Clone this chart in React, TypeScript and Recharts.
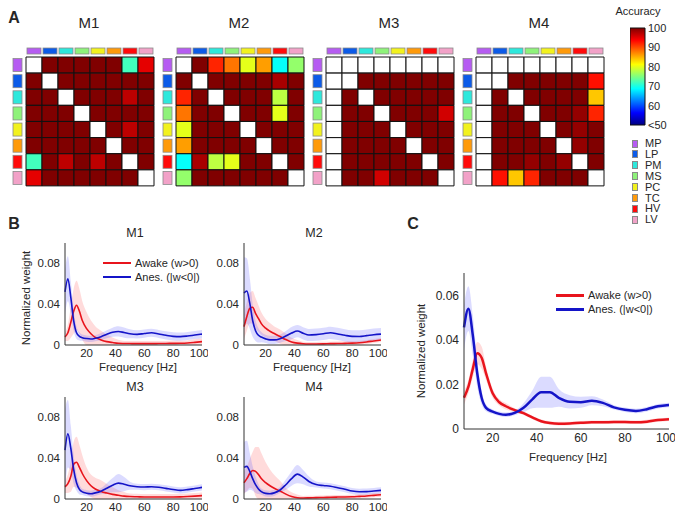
import React from "react";
import type { ReactElement, ReactNode } from "react";
import { Area, Bar, BarChart, Cell, ComposedChart, Legend, Line, XAxis, YAxis } from "recharts";

const FONT = '"Liberation Sans", Arial, sans-serif';
const INK = "#262626";

// regions (heatmap rows / cols)
const REGIONS = ["MP", "LP", "PM", "MS", "PC", "TC", "HV", "LV"];
const REGION_COLORS = ["#b65cf2", "#0c5be8", "#2ee8dc", "#8ef27a", "#f2f21e", "#ff9a0a", "#ff0a0a", "#f2a2c8"];

// decoding accuracy, row = region i, col = region j (null = not shown)
const N = null;
const M1_ACC = [
  [N, 100, 100, 100, 100, 100, 72, 95],
  [100, N, 100, 100, 100, 100, 100, 100],
  [100, 100, N, 100, 100, 100, 97, 100],
  [100, 100, 100, N, 100, 100, 100, 100],
  [100, 100, 100, 100, N, 100, 97, 100],
  [100, 100, 100, 100, 100, N, 100, 100],
  [72, 100, 97, 100, 97, 100, N, 100],
  [95, 100, 100, 100, 100, 100, 100, N],
];
const M2_ACC = [
  [N, 100, 92, 88, 80, 86, 69, 76],
  [100, N, 100, 100, 100, 100, 98, 100],
  [92, 100, N, 100, 100, 100, 78, 100],
  [88, 100, 100, N, 100, 100, 80, 100],
  [80, 100, 100, 100, N, 100, 100, 100],
  [86, 100, 100, 100, 100, N, 100, 100],
  [69, 98, 78, 80, 100, 100, N, 100],
  [76, 100, 100, 100, 100, 100, 100, N],
];
const M3_ACC = [
  [N, N, N, N, N, N, N, N],
  [N, N, 100, 100, 100, 100, 100, 100],
  [N, 100, N, 100, 100, 100, 100, 100],
  [N, 100, 100, N, 100, 100, 100, 96],
  [N, 100, 100, 100, N, 100, 100, 100],
  [N, 100, 100, 100, 100, N, 100, 100],
  [N, 100, 100, 100, 100, 100, N, 100],
  [N, 100, 100, 96, 100, 100, 100, N],
];
const M4_ACC = [
  [N, N, N, N, N, N, N, N],
  [N, N, 100, 100, 100, 100, 100, 93],
  [N, 100, N, 100, 100, 100, 100, 84],
  [N, 100, 100, N, 100, 100, 99, 92],
  [N, 100, 100, 100, N, 100, 99, 100],
  [N, 100, 100, 100, 100, N, 99, 100],
  [N, 100, 100, 99, 100, 99, N, 100],
  [N, 93, 84, 92, 100, 100, 100, N],
];
const ACC_TICKS = [50, 60, 70, 80, 90, 100];

// spectral weights, panel B
const FREQ_B = [5, 7, 9, 11, 13, 15, 17, 20, 23, 26, 30, 34, 38, 42, 46, 50, 55, 60, 65, 70, 75, 80, 85, 90, 95, 100];
const M1_AWAKE = [0.008, 0.012, 0.022, 0.033, 0.039, 0.033, 0.024, 0.016, 0.011, 0.0075, 0.005, 0.0033, 0.0024, 0.0017, 0.0015, 0.0014, 0.0013, 0.0013, 0.0013, 0.0014, 0.0015, 0.0016, 0.0017, 0.002, 0.0026, 0.0033];
const M1_AWAKE_SD = [0.004, 0.008, 0.015, 0.022, 0.024, 0.022, 0.019, 0.016, 0.013, 0.011, 0.009, 0.007, 0.005, 0.0035, 0.0025, 0.0025, 0.0025, 0.0025, 0.0025, 0.0025, 0.0025, 0.0025, 0.0025, 0.0025, 0.003, 0.003];
const M1_ANES = [0.052, 0.065, 0.047, 0.024, 0.012, 0.0085, 0.0072, 0.0063, 0.0059, 0.0066, 0.0082, 0.0105, 0.0125, 0.0133, 0.0122, 0.011, 0.0104, 0.0112, 0.012, 0.0108, 0.0095, 0.0085, 0.0082, 0.0088, 0.0098, 0.0107];
const M1_ANES_SD = [0.022, 0.022, 0.016, 0.01, 0.006, 0.004, 0.003, 0.003, 0.003, 0.003, 0.0035, 0.004, 0.0045, 0.005, 0.005, 0.0045, 0.004, 0.004, 0.004, 0.004, 0.004, 0.004, 0.004, 0.004, 0.004, 0.004];

const M2_AWAKE = [0.018, 0.028, 0.036, 0.037, 0.031, 0.026, 0.021, 0.0165, 0.0135, 0.0112, 0.0083, 0.0053, 0.003, 0.0018, 0.0012, 0.001, 0.001, 0.0011, 0.0013, 0.0014, 0.0016, 0.0018, 0.0022, 0.003, 0.004, 0.0049];
const M2_AWAKE_SD = [0.012, 0.014, 0.015, 0.016, 0.015, 0.013, 0.011, 0.009, 0.008, 0.007, 0.007, 0.006, 0.004, 0.003, 0.002, 0.002, 0.002, 0.002, 0.002, 0.002, 0.002, 0.002, 0.002, 0.002, 0.002, 0.002];
const M2_ANES = [0.051, 0.053, 0.041, 0.024, 0.014, 0.0095, 0.0078, 0.006, 0.005, 0.005, 0.0062, 0.0088, 0.0117, 0.0137, 0.0115, 0.0098, 0.0102, 0.011, 0.012, 0.0108, 0.0095, 0.0085, 0.0084, 0.0092, 0.0101, 0.0107];
const M2_ANES_SD = [0.035, 0.032, 0.025, 0.016, 0.01, 0.007, 0.005, 0.004, 0.004, 0.004, 0.004, 0.005, 0.006, 0.006, 0.006, 0.006, 0.006, 0.006, 0.006, 0.006, 0.006, 0.006, 0.006, 0.006, 0.006, 0.006];

const M3_AWAKE = [0.012, 0.015, 0.022, 0.034, 0.036, 0.031, 0.025, 0.018, 0.013, 0.0098, 0.0074, 0.0058, 0.0045, 0.0036, 0.0028, 0.0024, 0.0022, 0.002, 0.002, 0.002, 0.002, 0.002, 0.0021, 0.0024, 0.0028, 0.0033];
const M3_AWAKE_SD = [0.006, 0.009, 0.015, 0.022, 0.025, 0.022, 0.018, 0.013, 0.011, 0.011, 0.011, 0.009, 0.007, 0.005, 0.004, 0.003, 0.003, 0.003, 0.003, 0.003, 0.003, 0.003, 0.003, 0.003, 0.003, 0.003];
const M3_ANES = [0.048, 0.064, 0.05, 0.029, 0.016, 0.0095, 0.007, 0.0057, 0.0052, 0.006, 0.0077, 0.0105, 0.0135, 0.0156, 0.0145, 0.013, 0.012, 0.0117, 0.012, 0.0115, 0.0104, 0.0093, 0.0085, 0.0092, 0.0103, 0.0114];
const M3_ANES_SD = [0.04, 0.033, 0.022, 0.014, 0.008, 0.005, 0.003, 0.003, 0.003, 0.003, 0.003, 0.005, 0.007, 0.009, 0.007, 0.004, 0.003, 0.003, 0.003, 0.003, 0.003, 0.003, 0.003, 0.003, 0.003, 0.003];

const M4_AWAKE = [0.016, 0.02, 0.025, 0.028, 0.027, 0.024, 0.02, 0.016, 0.013, 0.0105, 0.0078, 0.0048, 0.0025, 0.0013, 0.001, 0.0011, 0.0013, 0.0015, 0.0017, 0.0019, 0.002, 0.0022, 0.0026, 0.003, 0.0036, 0.0042];
const M4_AWAKE_SD = [0.011, 0.012, 0.014, 0.018, 0.024, 0.027, 0.025, 0.02, 0.016, 0.013, 0.01, 0.006, 0.004, 0.003, 0.002, 0.002, 0.002, 0.002, 0.002, 0.002, 0.002, 0.002, 0.002, 0.002, 0.002, 0.002];
const M4_ANES = [0.031, 0.032, 0.027, 0.02, 0.014, 0.0098, 0.0072, 0.0055, 0.0052, 0.006, 0.0088, 0.014, 0.02, 0.0244, 0.0215, 0.0172, 0.0142, 0.0132, 0.0125, 0.011, 0.0095, 0.0078, 0.0071, 0.0072, 0.0078, 0.0085];
const M4_ANES_SD = [0.025, 0.025, 0.018, 0.012, 0.008, 0.005, 0.003, 0.003, 0.003, 0.003, 0.003, 0.005, 0.007, 0.009, 0.007, 0.005, 0.003, 0.003, 0.003, 0.003, 0.003, 0.003, 0.003, 0.003, 0.003, 0.003];

// panel C, pooled
const FREQ_C = [7, 9, 11, 13, 15, 17, 20, 23, 26, 30, 34, 38, 42, 46, 50, 55, 60, 65, 70, 75, 80, 85, 90, 95, 100];
const ALL_AWAKE = [0.014, 0.019, 0.027, 0.034, 0.032, 0.025, 0.016, 0.012, 0.0102, 0.0085, 0.0071, 0.0052, 0.0035, 0.0027, 0.0024, 0.0025, 0.0028, 0.003, 0.003, 0.0031, 0.0031, 0.003, 0.0033, 0.004, 0.0044];
const ALL_AWAKE_SD = [0.003, 0.003, 0.004, 0.005, 0.005, 0.003, 0.002, 0.0015, 0.0015, 0.0008, 0.0008, 0.0008, 0.0008, 0.0008, 0.0008, 0.0008, 0.0008, 0.0008, 0.0008, 0.0008, 0.0008, 0.0008, 0.0008, 0.0008, 0.0008];
const ALL_ANES = [0.0456, 0.054, 0.042, 0.025, 0.014, 0.0095, 0.0078, 0.0068, 0.0064, 0.0072, 0.0095, 0.0133, 0.0165, 0.0165, 0.014, 0.0122, 0.012, 0.0127, 0.0117, 0.0097, 0.0086, 0.0081, 0.0089, 0.0102, 0.0108];
const ALL_ANES_SD = [0.01, 0.01, 0.009, 0.006, 0.003, 0.0015, 0.001, 0.001, 0.001, 0.001, 0.002, 0.004, 0.007, 0.007, 0.004, 0.003, 0.0025, 0.002, 0.0015, 0.001, 0.001, 0.001, 0.001, 0.001, 0.001];

const FREQ_TICKS = [20, 40, 60, 80, 100];
const WEIGHT_TICKS_B = [0, 0.04, 0.08];
const WEIGHT_TICKS_C = [0, 0.02, 0.04, 0.06];

const SERIES = [
  { key: "awake", band: "awakeBand", name: "Awake (w>0)", color: "#e8141c", fill: "#ff5a5a" },
  { key: "anes", band: "anesBand", name: "Anes. (|w<0|)", color: "#1414c8", fill: "#5a5aff" },
];

const clamp = (v: number) => Math.min(1, Math.max(0, v));
function jet(t: number): string {
  const ch = (c: number) => Math.round(clamp(1.5 - Math.abs(4 * t - c)) * 255);
  return `rgb(${ch(3)},${ch(2)},${ch(1)})`;
}
const accColor = (v: number | null) => (v == null ? "#ffffff" : jet((v - 50) / 50));
const JET_STOPS = [0, 0.125, 0.375, 0.625, 0.875, 1];

function Txt({ x, y, size, bold, rotate, children }: { x: number; y: number; size: number; bold?: boolean; rotate?: number; children: ReactNode }) {
  return (
    <div
      style={{
        position: "absolute",
        left: x,
        top: y,
        transform: `translate(-50%, -50%)${rotate ? ` rotate(${rotate}deg)` : ""}`,
        fontSize: size,
        fontWeight: bold ? 700 : 400,
        lineHeight: 1,
        whiteSpace: "nowrap",
      }}
    >
      {children}
    </div>
  );
}

function TopStrip(props: any) {
  const { x, y, index } = props;
  return <rect x={x - 7} y={y - 6} width={14} height={6} fill={REGION_COLORS[index]} stroke="#8a8a8a" strokeWidth={0.8} />;
}

function SideStrip(props: any) {
  const { x, y, index } = props;
  return <rect x={x - 9} y={y - 6.5} width={9} height={13} fill={REGION_COLORS[index]} stroke="#8a8a8a" strokeWidth={0.8} />;
}

function AccuracyMap({ acc }: { acc: (number | null)[][] }): ReactElement {
  const rows = REGIONS.map((region) => {
    const row: Record<string, string | number> = { region };
    REGIONS.forEach((_, j) => {
      row[`c${j}`] = 1;
    });
    return row;
  });
  return (
    <BarChart width={144} height={142} data={rows} layout="vertical" margin={{ top: 0, right: 1, bottom: 1, left: 0 }} barCategoryGap={0} barGap={0}>
      <XAxis
        type="number"
        orientation="top"
        domain={[0, REGIONS.length]}
        ticks={REGIONS.map((_, j) => j + 0.5)}
        height={12}
        axisLine={false}
        tickLine={false}
        tickSize={0}
        tickMargin={3}
        interval={0}
        tick={<TopStrip />}
      />
      <YAxis type="category" dataKey="region" width={15} axisLine={false} tickLine={false} tickSize={0} tickMargin={4} interval={0} tick={<SideStrip />} />
      {REGIONS.map((_, j) => (
        <Bar key={j} dataKey={`c${j}`} stackId="m" isAnimationActive={false} stroke="#111" strokeWidth={1}>
          {acc.map((row, i) => (
            <Cell key={i} fill={accColor(row[j])} />
          ))}
        </Bar>
      ))}
    </BarChart>
  );
}

function ColorScale(): ReactElement {
  const data = [{ name: "Accuracy", span: [50, 100] }];
  return (
    <BarChart width={50} height={110} data={data} margin={{ top: 6, right: 0, bottom: 7, left: 0 }} barCategoryGap={0}>
      <defs>
        <linearGradient id="jetScale" x1="0" y1="1" x2="0" y2="0">
          {JET_STOPS.map((s) => (
            <stop key={s} offset={s} stopColor={jet(s)} />
          ))}
        </linearGradient>
      </defs>
      <XAxis dataKey="name" hide />
      <YAxis
        orientation="right"
        type="number"
        domain={[50, 100]}
        ticks={ACC_TICKS}
        width={35}
        axisLine={false}
        tickLine={false}
        tickSize={0}
        tickMargin={3}
        interval={0}
        tick={{ fontSize: 11, fill: INK }}
        tickFormatter={(v: number) => (v === 50 ? "<50" : String(v))}
      />
      <Bar dataKey="span" fill="url(#jetScale)" stroke="#111" strokeWidth={1} isAnimationActive={false} />
    </BarChart>
  );
}

function buildRows(freq: number[], awake: number[], awakeSd: number[], anes: number[], anesSd: number[]) {
  return freq.map((f, i) => ({
    f,
    awake: awake[i],
    awakeBand: [Math.max(0, awake[i] - awakeSd[i]), awake[i] + awakeSd[i]],
    anes: anes[i],
    anesBand: [Math.max(0, anes[i] - anesSd[i]), anes[i] + anesSd[i]],
  }));
}

function LineKey({ lineW }: { lineW: number }) {
  return (
    <div style={{ fontSize: 11, color: INK, lineHeight: "14px", fontFamily: FONT }}>
      {SERIES.map((s) => (
        <div key={s.key} style={{ display: "flex", alignItems: "center", whiteSpace: "nowrap" }}>
          <span style={{ display: "inline-block", width: 28, height: Math.max(2, Math.round(lineW)), background: s.color, marginRight: 4 }} />
          <span>{s.name}</span>
        </div>
      ))}
    </div>
  );
}

interface WeightChartProps {
  rows: ReturnType<typeof buildRows>;
  xMin: number;
  yMax: number;
  yTicks: number[];
  plotW: number;
  plotH: number;
  yAxisW: number;
  xAxisH: number;
  lineW: number;
  fontSize: number;
  legendAt?: { left: number; top: number };
}

function WeightChart({ rows, xMin, yMax, yTicks, plotW, plotH, yAxisW, xAxisH, lineW, fontSize, legendAt }: WeightChartProps): ReactElement {
  const right = 6;
  const top = 5;
  return (
    <ComposedChart width={yAxisW + plotW + right} height={top + plotH + xAxisH} data={rows} margin={{ top, right, bottom: 0, left: 0 }}>
      <XAxis
        type="number"
        dataKey="f"
        domain={[xMin, 100]}
        ticks={FREQ_TICKS}
        height={xAxisH}
        tickLine={false}
        tickSize={0}
        tickMargin={4}
        axisLine={{ stroke: "#333" }}
        tick={{ fontSize, fill: INK }}
      />
      <YAxis
        type="number"
        domain={[0, yMax]}
        ticks={yTicks}
        width={yAxisW}
        tickLine={false}
        tickSize={0}
        tickMargin={5}
        axisLine={{ stroke: "#333" }}
        tick={{ fontSize, fill: INK }}
        tickFormatter={(v: number) => (v === 0 ? "0" : v.toFixed(2))}
      />
      {SERIES.map((s) => (
        <Area key={s.band} type="monotone" dataKey={s.band} stroke="none" fill={s.fill} fillOpacity={0.22} legendType="none" isAnimationActive={false} />
      ))}
      {SERIES.map((s) => (
        <Line key={s.key} type="monotone" dataKey={s.key} name={s.name} stroke={s.color} strokeWidth={lineW} dot={false} isAnimationActive={false} />
      ))}
      {legendAt && (
        <Legend
          layout="horizontal"
          verticalAlign="middle"
          align="center"
          wrapperStyle={{ left: legendAt.left, top: legendAt.top, width: "auto" }}
          content={() => <LineKey lineW={lineW} />}
        />
      )}
    </ComposedChart>
  );
}

const HEATMAPS = [
  { title: "M1", acc: M1_ACC },
  { title: "M2", acc: M2_ACC },
  { title: "M3", acc: M3_ACC },
  { title: "M4", acc: M4_ACC },
];

const PANELS_B = [
  { title: "M1", rows: buildRows(FREQ_B, M1_AWAKE, M1_AWAKE_SD, M1_ANES, M1_ANES_SD), plotX: 65, plotY: 243, legend: true },
  { title: "M2", rows: buildRows(FREQ_B, M2_AWAKE, M2_AWAKE_SD, M2_ANES, M2_ANES_SD), plotX: 244, plotY: 243, legend: false },
  { title: "M3", rows: buildRows(FREQ_B, M3_AWAKE, M3_AWAKE_SD, M3_ANES, M3_ANES_SD), plotX: 65, plotY: 397, legend: false },
  { title: "M4", rows: buildRows(FREQ_B, M4_AWAKE, M4_AWAKE_SD, M4_ANES, M4_ANES_SD), plotX: 244, plotY: 397, legend: false },
];

const ROWS_C = buildRows(FREQ_C, ALL_AWAKE, ALL_AWAKE_SD, ALL_ANES, ALL_ANES_SD);

export default function App(): ReactElement {
  return (
    <div
      style={{
        position: "absolute",
        left: 0,
        top: 0,
        width: 682,
        height: 518,
        overflow: "hidden",
        background: "#fff",
        fontFamily: FONT,
        color: INK,
      }}
    >
      {/* A: pairwise decoding accuracy */}
      <Txt x={14} y={18} size={16} bold>
        A
      </Txt>
      {HEATMAPS.map((h, k) => (
        <React.Fragment key={h.title}>
          <Txt x={89 + 150 * k} y={22} size={15}>
            {h.title}
          </Txt>
          <div style={{ position: "absolute", left: 11 + 150 * k, top: 45 }}>
            <AccuracyMap acc={h.acc} />
          </div>
        </React.Fragment>
      ))}

      <Txt x={638} y={11} size={11}>
        Accuracy
      </Txt>
      <div style={{ position: "absolute", left: 630, top: 22 }}>
        <ColorScale />
      </div>
      {REGIONS.map((r, i) => (
        <div key={r} style={{ position: "absolute", left: 632, top: 138 + i * 10.9, display: "flex", alignItems: "center", fontSize: 11, lineHeight: "11px" }}>
          <span style={{ display: "inline-block", width: 4, height: 6, background: REGION_COLORS[i], border: "1px solid #8a8a8a", marginRight: 7 }} />
          <span>{r}</span>
        </div>
      ))}

      {/* B: per-animal spectral weights */}
      <Txt x={14} y={224} size={16} bold>
        B
      </Txt>
      {PANELS_B.map((p) => {
        const yAxisW = p.legend ? 50 : 40;
        return (
          <React.Fragment key={p.title}>
            <Txt x={p.plotX + 70} y={p.plotY - 10} size={12.5}>
              {p.title}
            </Txt>
            <div style={{ position: "absolute", left: p.plotX - yAxisW, top: p.plotY - 5 }}>
              <WeightChart
                rows={p.rows}
                xMin={5}
                yMax={0.1}
                yTicks={WEIGHT_TICKS_B}
                plotW={137}
                plotH={102}
                yAxisW={yAxisW}
                xAxisH={20}
                lineW={1.6}
                fontSize={11.5}
                legendAt={p.legend ? { left: 88, top: 18 } : undefined}
              />
            </div>
          </React.Fragment>
        );
      })}
      <Txt x={138} y={368} size={11.5}>
        Frequency [Hz]
      </Txt>
      <Txt x={312} y={368} size={11.5}>
        Frequency [Hz]
      </Txt>
      <Txt x={27} y={298} size={11.5} rotate={-90}>
        Normalized weight
      </Txt>

      {/* C: pooled spectral weights */}
      <Txt x={413} y={224} size={16} bold>
        C
      </Txt>
      <div style={{ position: "absolute", left: 412, top: 268 }}>
        <WeightChart
          rows={ROWS_C}
          xMin={7}
          yMax={0.07}
          yTicks={WEIGHT_TICKS_C}
          plotW={205}
          plotH={156}
          yAxisW={52}
          xAxisH={36}
          lineW={2.5}
          fontSize={12}
          legendAt={{ left: 144, top: 20 }}
        />
      </div>
      <Txt x={568} y={458} size={11.5}>
        Frequency [Hz]
      </Txt>
      <Txt x={422} y={351} size={11.5} rotate={-90}>
        Normalized weight
      </Txt>
    </div>
  );
}
